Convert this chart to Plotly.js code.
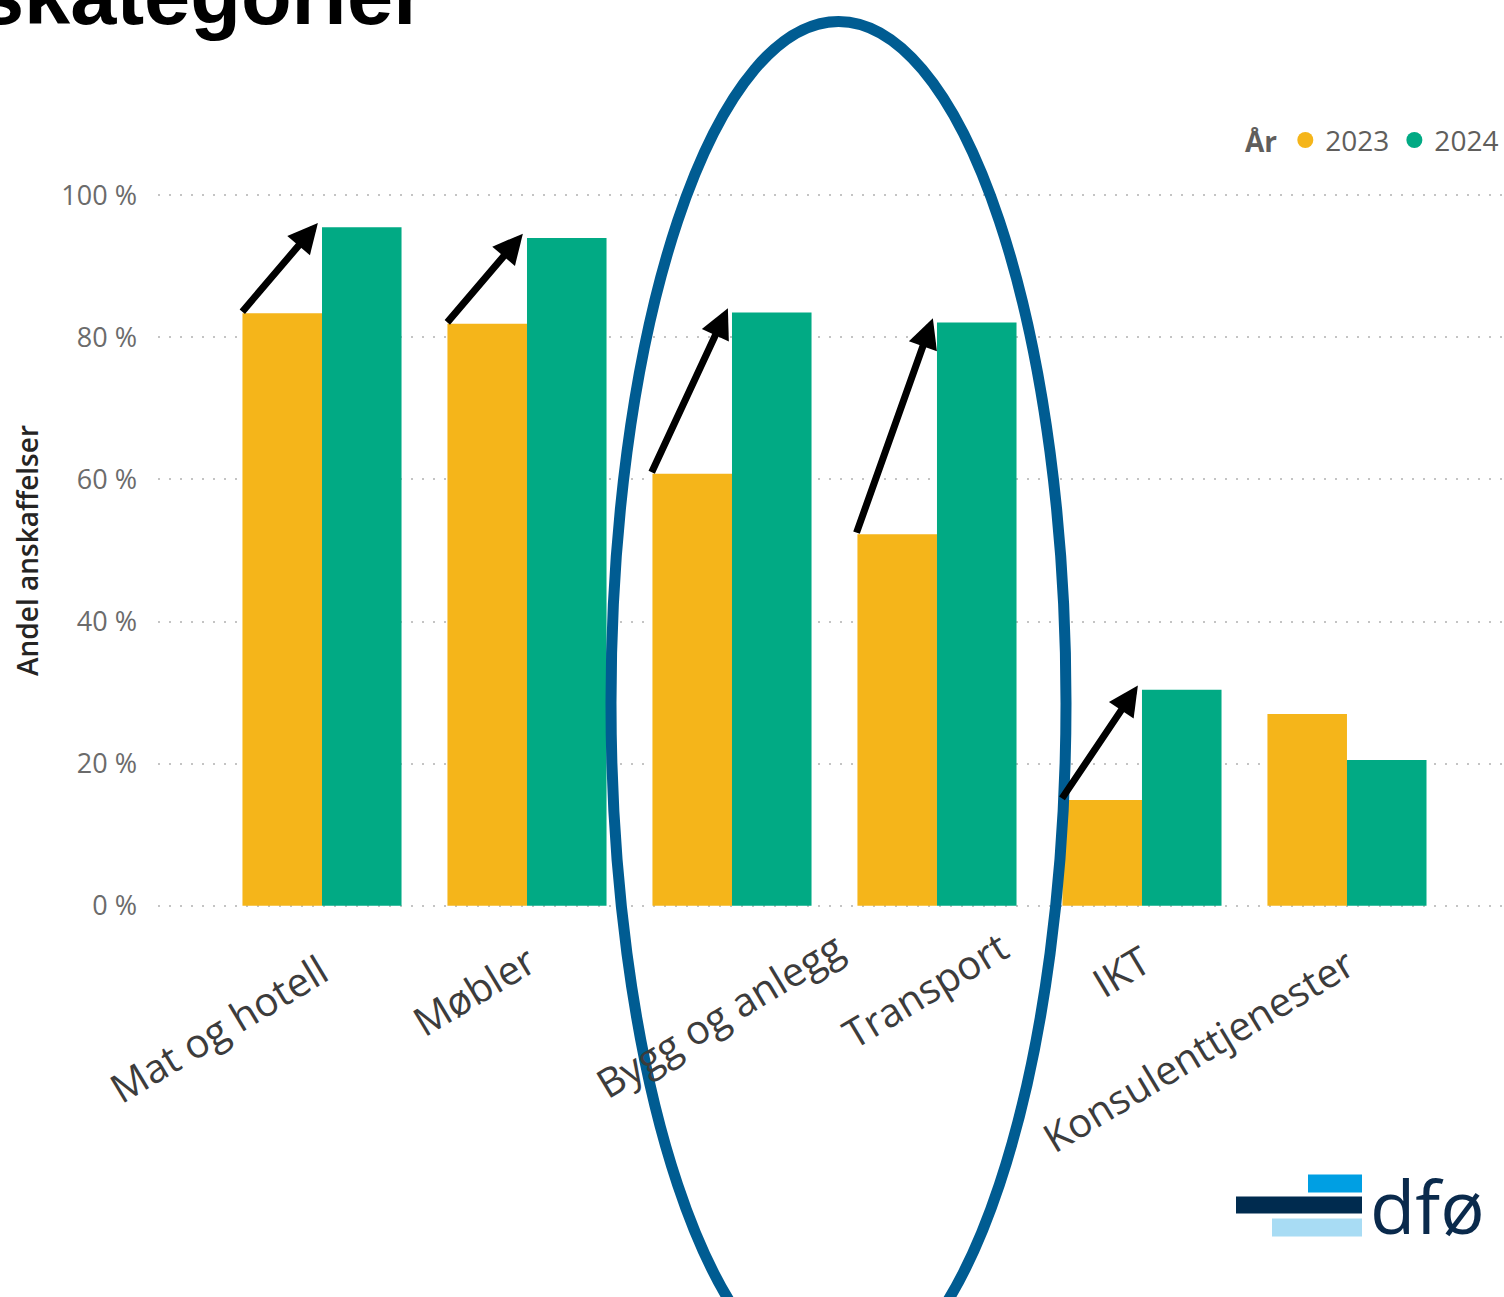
<!DOCTYPE html>
<html>
<head>
<meta charset="utf-8">
<script src="https://cdn.plot.ly/plotly-3.0.1.min.js"></script>
<style>html,body{margin:0;padding:0;background:#fff;}#chart{width:1504px;height:1297px;}</style>
</head>
<body>
<div id="chart"></div>
<script>
// ---- data ----
const categories = ["Mat og hotell", "Møbler", "Bygg og anlegg", "Transport", "IKT", "Konsulenttjenester"];
const share2023 = [83.4, 81.9, 60.8, 52.3, 14.9, 27.0];
const share2024 = [95.5, 94.0, 83.5, 82.1, 30.4, 20.5];
const yTickVals = [0, 20, 40, 60, 80, 100];
const yTickText = ["0 %", "20 %", "40 %", "60 %", "80 %", "100 %"];
const seriesNames = ["2023", "2024"];

// ---- layout helpers (pixel -> paper) ----
const W = 1504, H = 1297;
const Y0PX = 906, Y100PX = 195;            // pixel rows of 0 % and 100 %
const YMIN = -0.6, YMAX = 100.6;
const PXU = (Y0PX - Y100PX) / 100;
const ML = 158, MR = 0;
const MT = Y100PX - (YMAX - 100) * PXU;
const MB = H - (Y0PX + (0 - YMIN) * PXU);
const PW = W - ML - MR, PH = H - MT - MB;
const px2x = p => (p - ML) / PW;
const py2y = p => (H - MB - p) / PH;

const YELLOW = "#F5B51A", GREEN = "#01AA84";
const FONT = "Open Sans, Noto Sans, sans-serif";

const traces = [
  {type: "bar", name: seriesNames[0], x: categories, y: share2023, marker: {color: YELLOW}, showlegend: false},
  {type: "bar", name: seriesNames[1], x: categories, y: share2024, marker: {color: GREEN}, showlegend: false},
  {type: "scatter", mode: "markers", name: seriesNames[0], x: [null], y: [null], marker: {color: YELLOW, size: 22, symbol: "circle"}, showlegend: true},
  {type: "scatter", mode: "markers", name: seriesNames[1], x: [null], y: [null], marker: {color: GREEN, size: 22, symbol: "circle"}, showlegend: true}
];

const annotations = [];

// arrows where the share increased
categories.forEach((c, i) => {
  if (share2024[i] > share2023[i]) {
    annotations.push({
      xref: "x", yref: "y", axref: "x", ayref: "y",
      x: i - 0.02, y: share2024[i] + 0.6,
      ax: i - 0.395, ay: share2023[i],
      text: "", showarrow: true, arrowhead: 2, arrowsize: 0.85, arrowwidth: 7, arrowcolor: "#000000", standoff: 0
    });
  }
});

// category labels (rotated), placed under each category
const labelShiftPx = [18, 20, 124, 83, 21, 20];
const labelTopPx = [939, 930, 917, 916, 930, 932];
categories.forEach((c, i) => {
  annotations.push({
    xref: "x", yref: "paper", x: c, y: py2y(labelTopPx[i]), xshift: labelShiftPx[i],
    xanchor: "right", yanchor: "top", textangle: -31,
    text: c, showarrow: false,
    font: {family: FONT, size: 40, color: "#3C3C3C"}
  });
});

// title (cut off at top, as in the reference)
annotations.push({
  xref: "paper", yref: "paper", x: px2x(427), y: py2y(44), xanchor: "right", yanchor: "bottom",
  text: "<b>Anskaffelseskategorier</b>", showarrow: false,
  font: {family: "Liberation Sans, Arial, sans-serif", size: 83, color: "#000000"}
});

// logo text
annotations.push({
  xref: "paper", yref: "paper", x: px2x(1368), y: py2y(1206), xanchor: "left", yanchor: "middle",
  text: "dfø", showarrow: false,
  font: {family: FONT, size: 74, color: "#0A2A4C"}
});

const shapes = [
  // highlight ellipse
  {type: "circle", xref: "paper", yref: "paper", x0: px2x(611), x1: px2x(1066), y0: py2y(1385), y1: py2y(21),
   line: {color: "#005C92", width: 11}, layer: "above"},
  // logo bars
  {type: "rect", xref: "paper", yref: "paper", x0: px2x(1308), x1: px2x(1362), y0: py2y(1193), y1: py2y(1175),
   fillcolor: "#009FE3", line: {width: 0}},
  {type: "rect", xref: "paper", yref: "paper", x0: px2x(1236), x1: px2x(1362), y0: py2y(1214), y1: py2y(1197),
   fillcolor: "#002B4F", line: {width: 0}},
  {type: "rect", xref: "paper", yref: "paper", x0: px2x(1272), x1: px2x(1362), y0: py2y(1237), y1: py2y(1219),
   fillcolor: "#A8DCF4", line: {width: 0}}
];

const layout = {
  width: W, height: H,
  margin: {l: ML, r: MR, t: MT, b: MB, pad: 0},
  paper_bgcolor: "#ffffff", plot_bgcolor: "#ffffff",
  font: {family: FONT, color: "#605E5C"},
  barmode: "group", bargap: 0.224, bargroupgap: 0,
  xaxis: {
    type: "category", range: [-0.8, 5.766], showgrid: false, zeroline: false, showline: false,
    ticks: "", showticklabels: false, fixedrange: true
  },
  yaxis: {
    range: [YMIN, YMAX], tickvals: yTickVals, ticktext: yTickText,
    showgrid: true, gridcolor: "#C4C4C4", gridwidth: 2, griddash: "2px,9px",
    zeroline: false, showline: false, ticks: "", ticklabelstandoff: 20,
    tickfont: {family: FONT, size: 27, color: "#6B6B6B"},
    title: {text: "Andel anskaffelser", font: {family: FONT, size: 28, weight: 600, color: "#252423"}, standoff: 14},
    fixedrange: true
  },
  legend: {
    orientation: "h", x: 1.0, xanchor: "right", y: py2y(140), yanchor: "middle",
    title: {text: "<b>År</b>", font: {family: FONT, size: 28, color: "#605E5C"}},
    font: {family: FONT, size: 28, color: "#605E5C"},
    itemwidth: 30, bgcolor: "rgba(0,0,0,0)", tracegroupgap: 0
  },
  annotations: annotations,
  shapes: shapes,
  showlegend: true
};

Plotly.newPlot("chart", traces, layout, {displayModeBar: false, staticPlot: true});
</script>
</body>
</html>
